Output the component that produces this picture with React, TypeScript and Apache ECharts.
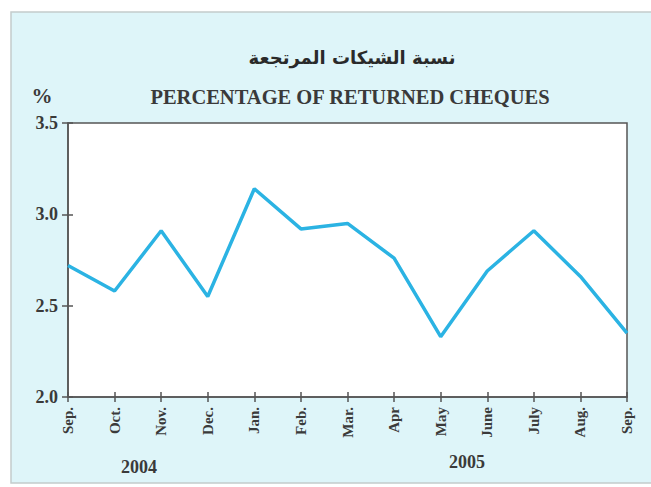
import React, { useEffect, useRef } from "react";
import * as echarts from "echarts";

const months = ["Sep.", "Oct.", "Nov.", "Dec.", "Jan.", "Feb.", "Mar.", "Apr", "May", "June", "July", "Aug.", "Sep."];
const returnedPct = [2.72, 2.58, 2.91, 2.55, 3.14, 2.92, 2.95, 2.76, 2.33, 2.69, 2.91, 2.66, 2.35];
const yearLabels = ["2004", "2005"];
const titleAr = "نسبة الشيكات المرتجعة";
const titleEn = "PERCENTAGE OF RETURNED CHEQUES";
const unitLabel = "%";

const serif = "'Liberation Serif', 'Times New Roman', serif";
const textColor = "#3a3a3a";
const axisColor = "#555555";

export default function App() {
  const ref = useRef<HTMLDivElement>(null);
  useEffect(() => {
    if (!ref.current) return;
    const chart = echarts.init(ref.current, null, { renderer: "svg" });
    const yCommon = {
      type: "value" as const,
      min: 2,
      max: 3.5,
      interval: 0.5,
      splitLine: { show: false },
    };
    const xCommon = {
      type: "category" as const,
      data: months,
      boundaryGap: false,
    };
    const centered = (text: string, x: number, y: number, font: string, fill = textColor) => ({
      type: "text",
      x,
      y,
      style: { text, font, fill, textAlign: "center", textVerticalAlign: "middle" },
    });
    chart.setOption({
      animation: false,
      backgroundColor: "#ffffff",
      graphic: [
        {
          type: "rect",
          z: -10,
          silent: true,
          shape: { x: 11, y: 12, width: 660, height: 471 },
          style: { fill: "#def5f9", stroke: "#c4cccc", lineWidth: 1.5 },
        },
        centered(titleAr, 352, 57, "bold 18px 'DejaVu Sans', sans-serif", "#2a2a2a"),
        centered(titleEn, 350, 97, `bold 20.5px ${serif}`),
        centered(unitLabel, 42, 96, `bold 21px ${serif}`),
        centered(yearLabels[0], 139, 467, `bold 18px ${serif}`),
        centered(yearLabels[1], 467, 462, `bold 18px ${serif}`),
      ],
      grid: {
        left: 68,
        right: 24,
        top: 123,
        bottom: 90,
        show: true,
        backgroundColor: "#ffffff",
        borderColor: axisColor,
        borderWidth: 1.5,
      },
      xAxis: [
        {
          ...xCommon,
          position: "bottom",
          axisLine: { show: true, lineStyle: { color: axisColor, width: 1.5 } },
          axisTick: { show: true, inside: false, length: 5, interval: 0, lineStyle: { color: axisColor, width: 1.5 } },
          axisLabel: {
            show: true,
            interval: 0,
            rotate: 90,
            margin: 10,
            color: textColor,
            fontFamily: serif,
            fontWeight: "bold",
            fontSize: 15,
          },
        },
        {
          ...xCommon,
          position: "bottom",
          axisLine: { show: false },
          axisTick: { show: true, inside: true, length: 5, interval: 0, lineStyle: { color: axisColor, width: 1.5 } },
          axisLabel: { show: false },
        },
      ],
      yAxis: [
        {
          ...yCommon,
          position: "left",
          axisLine: { show: true, lineStyle: { color: axisColor, width: 1.5 } },
          axisTick: { show: true, inside: false, length: 6, lineStyle: { color: axisColor, width: 1.5 } },
          axisLabel: {
            margin: 10,
            color: textColor,
            fontFamily: serif,
            fontWeight: "bold",
            fontSize: 18,
            formatter: (v: number) => v.toFixed(1),
          },
        },
        {
          ...yCommon,
          position: "left",
          axisLine: { show: false },
          axisTick: { show: true, inside: true, length: 5, lineStyle: { color: axisColor, width: 1.5 } },
          axisLabel: { show: false },
        },
      ],
      series: [
        {
          type: "line",
          data: returnedPct,
          xAxisIndex: 0,
          yAxisIndex: 0,
          symbol: "none",
          lineStyle: { color: "#2bb3e3", width: 3.5 },
        },
      ],
    });
    return () => chart.dispose();
  }, []);
  return (
    <div
      ref={ref}
      style={{ position: "absolute", left: 0, top: 0, width: 651, height: 487 }}
    />
  );
}
